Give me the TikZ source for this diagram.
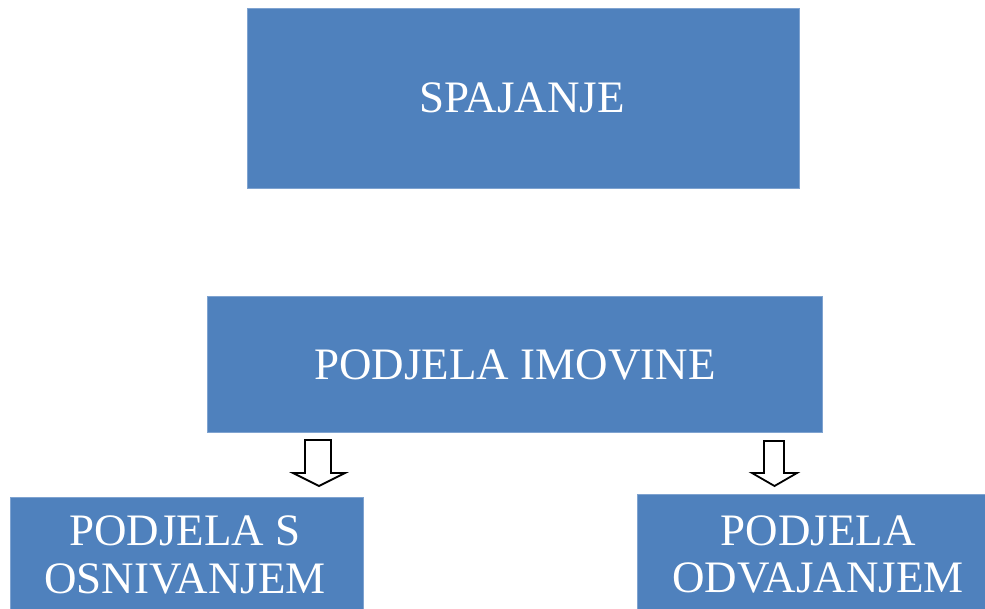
\documentclass[tikz,border=0pt]{standalone}
\usepackage{fontspec}
\setmainfont{Liberation Serif}
\definecolor{boxblue}{HTML}{4F81BD}
\definecolor{boxedge}{HTML}{7FA3D0}
\tikzset{
  box/.style={fill=boxblue, draw=boxedge, line width=0.8pt},
  txt/.style={text=white, font=\fontsize{45}{49}\selectfont, anchor=base, inner sep=0pt},
  blockarrow/.style={draw=black, fill=white, line width=1.8pt, line join=miter}
}
\begin{document}
\begin{tikzpicture}[x=1pt,y=-1pt]
\fill[white] (0,0) rectangle (985,609);
\useasboundingbox (0,0) rectangle (985,609);
% boxes
\path[box] (247,8) rectangle (799,188) coordinate (spbr);
\node[inner sep=0pt, minimum width=552pt, minimum height=180pt] (sp) at (523,98) {};
\path[box] (207,296) rectangle (822,432);
\node[inner sep=0pt, minimum width=615pt, minimum height=136pt] (pi) at (514.5,364) {};
\path[box] (10,497) rectangle (363,616);
\node[inner sep=0pt, minimum width=353pt, minimum height=119pt] (ps) at (186.5,556.5) {};
\path[box] (637,494) rectangle (999,616);
\node[inner sep=0pt, minimum width=362pt, minimum height=122pt] (po) at (818,555) {};
% texts
\node[txt] (t1) at (522,113) {SPAJANJE};
\node[txt] (t2) at (515,380) {PODJELA IMOVINE};
\node[txt] (t3a) at (185,545) {PODJELA S};
\node[txt] (t3b) at (185,593) {OSNIVANJEM};
\node[txt] (t4a) at (818,545) {PODJELA};
\node[txt] (t4b) at (818,592) {ODVAJANJEM};
% block arrows
\draw[blockarrow] (305,440) -- (331,440) -- (331,473) -- (345,473) -- (319,486) -- (293,473) -- (305,473) -- cycle;
\draw[blockarrow] (764,441) -- (784,441) -- (784,473) -- (797,473) -- (774.5,486) -- (752,473) -- (764,473) -- cycle;
\end{tikzpicture}
\end{document}
